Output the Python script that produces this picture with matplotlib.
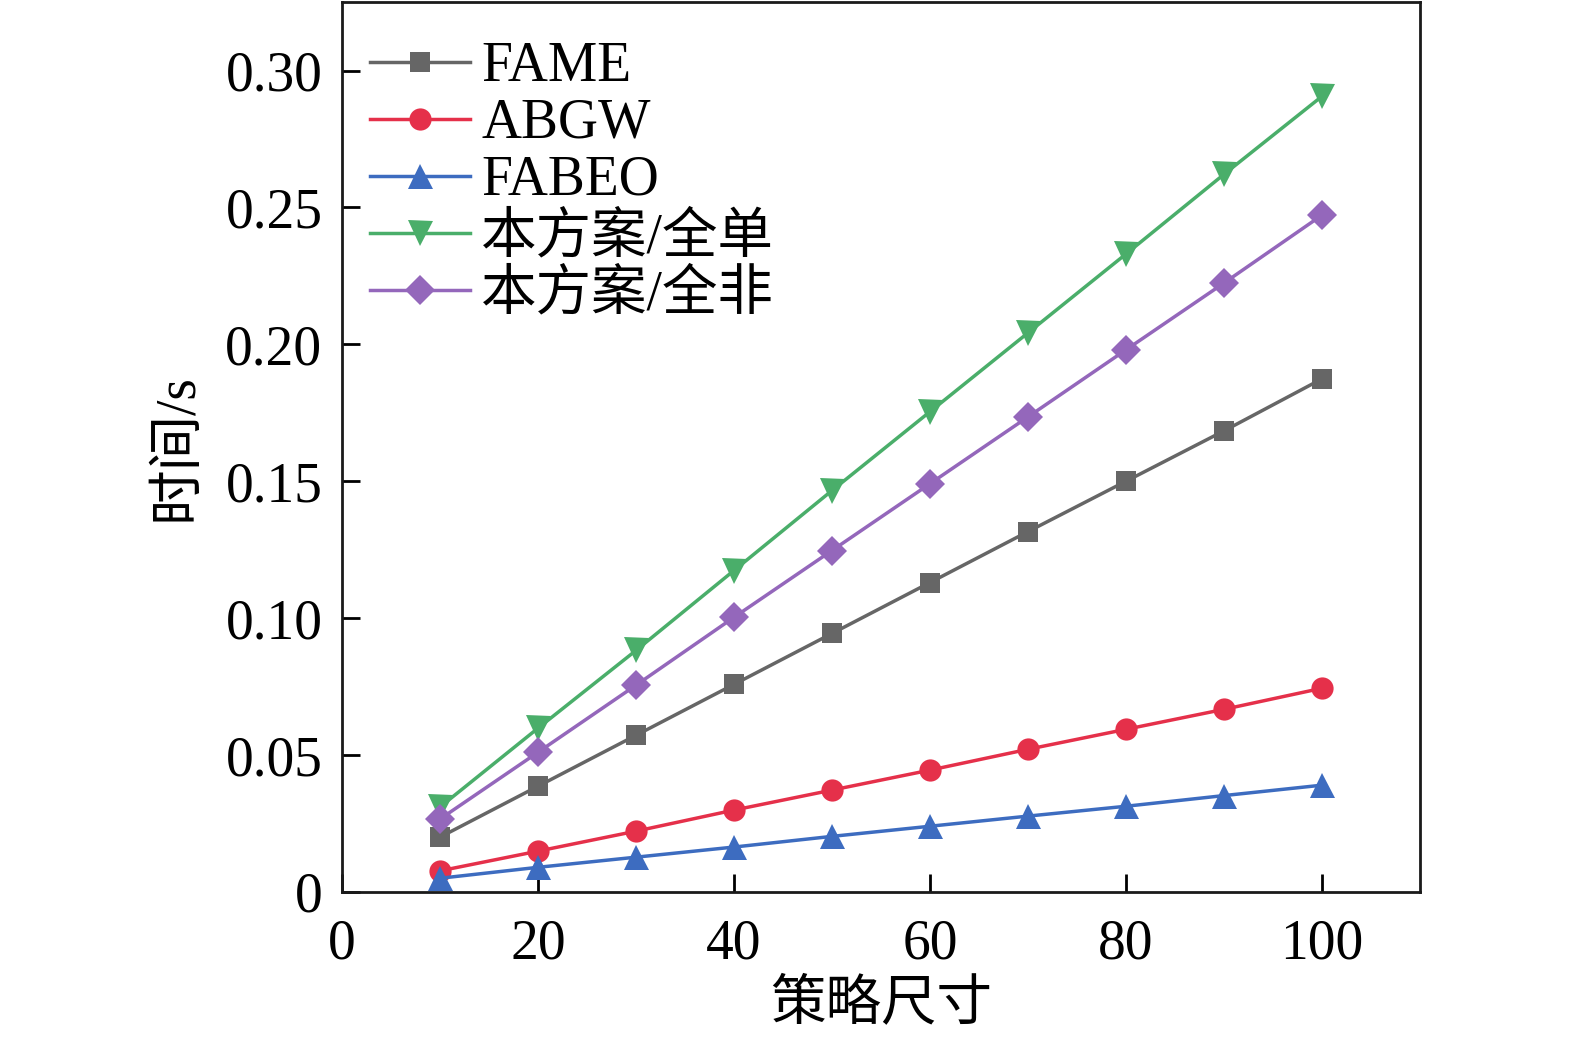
"""
Running time vs. policy size
"""

import matplotlib
matplotlib.use('Agg')
import matplotlib.pyplot as plt
from matplotlib.ticker import FuncFormatter

plt.rcParams['font.family'] = ['Liberation Serif', 'Noto Sans CJK SC', 'DejaVu Sans']
plt.rcParams['mathtext.fontset'] = 'stix'

sizes = [10, 20, 30, 40, 50, 60, 70, 80, 90, 100]
fame = [0.0200, 0.0386, 0.0572, 0.0758, 0.0944, 0.1130, 0.1316, 0.1500, 0.1684, 0.1874]
abgw = [0.0077, 0.0149, 0.0222, 0.0299, 0.0372, 0.0445, 0.0521, 0.0594, 0.0667, 0.0744]
fabeo = [0.0050, 0.0090, 0.0127, 0.0164, 0.0203, 0.0240, 0.0277, 0.0313, 0.0352, 0.0390]
ours_and = [0.0310, 0.0598, 0.0882, 0.1174, 0.1466, 0.1754, 0.2042, 0.2330, 0.2621, 0.2906]
ours_not = [0.0266, 0.0510, 0.0755, 0.1003, 0.1247, 0.1491, 0.1735, 0.1980, 0.2224, 0.2472]

names = ['FAME', 'ABGW', 'FABEO', '本方案/全单', '本方案/全非']
x_ticks = [0, 20, 40, 60, 80, 100]
y_ticks = [0, 0.05, 0.10, 0.15, 0.20, 0.25, 0.30]


def main():
    fig = plt.figure(figsize=(15.75, 10.38), dpi=100)
    ax = fig.add_axes([0.2171, 0.1407, 0.9016 - 0.2171, 0.998 - 0.1407])

    series = [fame, abgw, fabeo, ours_and, ours_not]
    colors = ['#666666', '#e5304a', '#3d6cc0', '#4aae6a', '#9467bb']
    markers = ['s', 'o', '^', 'v', 'D']
    msizes = [15, 16, 18, 18, 15]

    for vals, name, col, mk, ms in zip(series, names, colors, markers, msizes):
        ax.plot(sizes, vals, color=col, marker=mk, markersize=ms, lw=2.5,
                label=name, markeredgewidth=0)

    ax.set_xlim(0, 110)
    ax.set_ylim(0, 0.325)
    ax.set_xticks(x_ticks)
    ax.set_yticks(y_ticks)
    ax.yaxis.set_major_formatter(FuncFormatter(
        lambda v, p: '0' if abs(v) < 1e-9 else '%.2f' % v))

    ax.tick_params(direction='in', length=13, width=2, labelsize=40)
    ax.tick_params(axis='x', pad=19)
    ax.tick_params(axis='y', pad=14)
    for sp in ax.spines.values():
        sp.set_linewidth(2)
        sp.set_color('#1a1a1a')

    ax.set_xlabel('策略尺寸', fontsize=40, labelpad=6)
    ax.set_ylabel('时间/s', fontsize=40, labelpad=16)

    ax.legend(loc='upper left', bbox_to_anchor=(-0.01, 1.0), frameon=False,
              fontsize=40, handlelength=1.8, handletextpad=0.2,
              labelspacing=0.09, borderaxespad=0.3)

    fig.savefig('out.png', dpi=100)


if __name__ == "__main__":
    main()
